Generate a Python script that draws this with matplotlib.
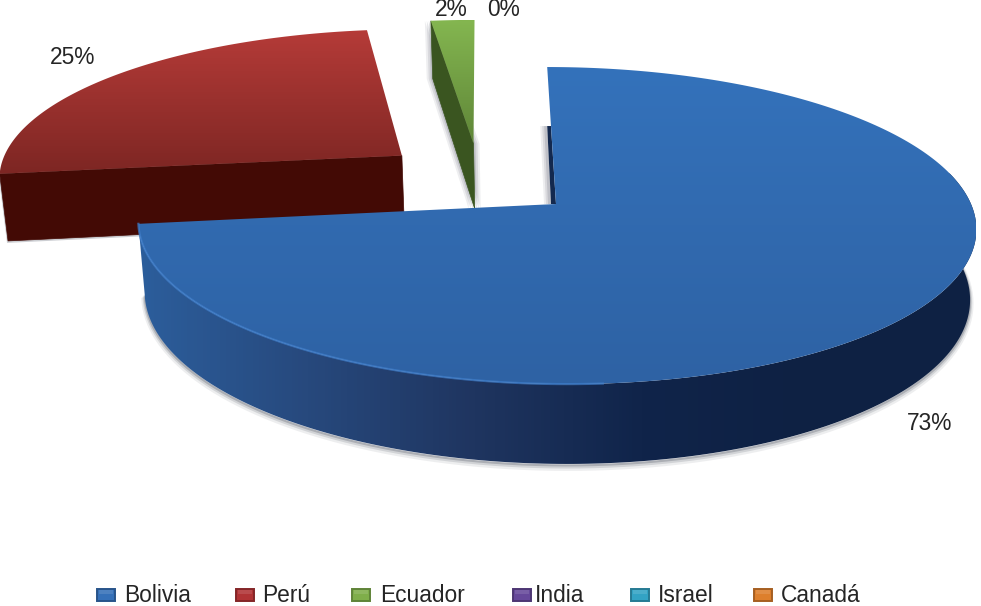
import matplotlib
matplotlib.use("Agg")
import matplotlib.pyplot as plt
import numpy as np
from matplotlib.colors import LinearSegmentedColormap, to_rgb
from matplotlib.patches import Polygon, Rectangle

plt.rcParams["font.family"] = ["Liberation Sans", "DejaVu Sans"]

# data
paises = ["Bolivia", "Perú", "Ecuador", "India", "Israel", "Canadá"]
porcentajes = [73, 25, 2, 0, 0, 0]

# look of each slice: top gradient (far -> near), wall gradient (left -> right)
top_cols = {
    "Bolivia": ["#3472bb", "#2e62a4"],
    "Perú": ["#b53b38", "#7d2623"],
    "Ecuador": ["#84b650", "#5f8638"],
}
wall_cols = ["#2c5e9c", "#27497d", "#1f3560", "#10244a", "#0e2143", "#0e2143"]
cut_cols = {"Perú": "#430a05", "Ecuador": "#3a5520"}
swatch_cols = ["#3570b8", "#b03335", "#7fae4a", "#66489a", "#33a3c4", "#dd7f2c"]

# exploded offset of each slice on the unit disc
offsets = {"Bolivia": (0.0, 0.0), "Perú": (-0.38, 0.325), "Ecuador": (-0.2, 0.41)}

# pie projection, pixel units
CX, CY = 556, 204
A, B = 415, 155.6
K, SHEAR = 0.136, 10
DEPTH, SHRINK = 69, 0.985


def project(u, v, bottom=False):
    u, v = np.asarray(u, float), np.asarray(v, float)
    w = 1 + K * v
    x = (A * u - SHEAR * v) / w
    y = -B * v / w
    if bottom:
        return CX + x * SHRINK, CY + y + DEPTH / w
    return CX + x, CY + y


def gradient_poly(ax, xs, ys, colors, z, horizontal=False):
    cmap = LinearSegmentedColormap.from_list("g", colors)
    poly = Polygon(np.column_stack([xs, ys]), closed=True, fc="none", ec="none", transform=ax.transData)
    ax.add_patch(poly)
    grad = np.linspace(0, 1, 256)
    grad = grad[None, :] if horizontal else grad[:, None]
    im = ax.imshow(grad, cmap=cmap, aspect="auto", zorder=z,
                   extent=(xs.min(), xs.max(), ys.max(), ys.min()))
    im.set_clip_path(poly)


fig = plt.figure(figsize=(9.81, 6.06), dpi=100)
ax = fig.add_axes([0, 0, 1, 1])

edges = np.cumsum([0] + porcentajes) / 100 * 2 * np.pi


def draw_slice(i, z):
    name = paises[i]
    du, dv = offsets[name]
    t = np.linspace(edges[i], edges[i + 1], 300)
    u, v = du + np.sin(t), dv + np.cos(t)

    if name == "Bolivia":
        # outer wall, only the part that faces the viewer
        m = t > np.radians(78)
        xt, yt = project(u[m], v[m])
        xb, yb = project(u[m], v[m], bottom=True)
        # soft shadow under the wall
        for off, lw, al in [(3.5, 5, 0.10), (2.5, 3, 0.18), (1.5, 1.5, 0.30)]:
            ax.plot(xb, yb + off, color="#555a66", lw=lw, alpha=al, zorder=z - 0.4, solid_capstyle="butt")
        gradient_poly(ax, np.r_[xt, xb[::-1]], np.r_[yt, yb[::-1]], wall_cols, z, horizontal=True)

        # cut face at the start, thin sliver left of the top edge
        xa, ya = project(du, dv)
        xs, ys = project(u[0], v[0])
        y_sl = ys + 59
        x_edge = xs + (xa - xs) * (y_sl - ys) / (ya - ys)
        for off, al in [(7, 0.10), (5, 0.14), (3, 0.2)]:
            ax.fill([xs, xs - off, xa - 5 - off, xa - 5], [y_sl, y_sl, ya, ya], color="#5a6070",
                    alpha=al, lw=0, zorder=z - 0.3)
        ax.fill([x_edge, xs, xa - 5, xa], [y_sl, y_sl, ya, ya], color="#13294f", lw=0, zorder=z - 0.2)
    else:
        # cut face along the front radial edge
        x1, y1 = project([du, u[0]], [dv, v[0]])
        x2, y2 = project([du, u[0]], [dv, v[0]], bottom=True)
        xs = np.array([x1[0], x1[1], x2[1], x2[0]])
        ys = np.array([y1[0], y1[1], y2[1], y2[0]])
        col = cut_cols[name]
        if name == "Ecuador":
            for off, al in [(6, 0.10), (4, 0.14), (2, 0.2)]:
                ax.add_patch(Polygon(np.column_stack([xs - off, ys]), fc="#5a6070", alpha=al, lw=0, zorder=z - 0.2))
                ax.add_patch(Polygon(np.column_stack([xs + off, ys]), fc="#5a6070", alpha=al, lw=0, zorder=z - 0.2))
        else:
            ax.add_patch(Polygon(np.column_stack([xs - 1, ys + 2]), fc="#5a6070", alpha=0.3, lw=0, zorder=z - 0.1))
        ax.add_patch(Polygon(np.column_stack([xs, ys]), fc=col, ec=col, lw=0.5, zorder=z))

    # top face
    xt, yt = project(np.r_[du, u], np.r_[dv, v])
    gradient_poly(ax, xt, yt, top_cols[name], z + 0.1)

    if name == "Bolivia":
        # lighter bevel along the near rim, only on the lit side
        m = t > np.radians(175)
        xr, yr = project(u[m], v[m])
        ax.plot(xr, yr, color="#3f7ecb", lw=1.6, alpha=0.7, zorder=z + 0.2)


draw_slice(1, 1)
draw_slice(2, 2)
draw_slice(0, 3)

ax.set_xlim(0, 981)
ax.set_ylim(606, 0)
ax.axis("off")

# data labels
label_pos = [(930, 423), (73, 58), (451, 10), (504, 10)]
for val, (lx, ly) in zip(porcentajes, label_pos):
    ax.text(lx, ly, f"{val}%", ha="center", va="center", fontsize=16.4, color="#252525", zorder=6)

# legend
swatch_x = [97, 236, 352, 513, 631, 754]
text_x = [124, 262, 380, 535, 658, 781]
for name, col, sx, tx in zip(paises, swatch_cols, swatch_x, text_x):
    dark = tuple(c * 0.75 for c in to_rgb(col))
    ax.add_patch(Rectangle((sx, 589), 18, 12, fc=col, ec=dark, lw=1.4, zorder=5))
    ax.add_patch(Rectangle((sx + 2, 590), 14, 4, fc="white", alpha=0.12, lw=0, zorder=5.1))
    ax.text(tx, 595, name, ha="left", va="center", fontsize=16.4, color="#252525", zorder=6)

fig.savefig("out.png", dpi=100)
